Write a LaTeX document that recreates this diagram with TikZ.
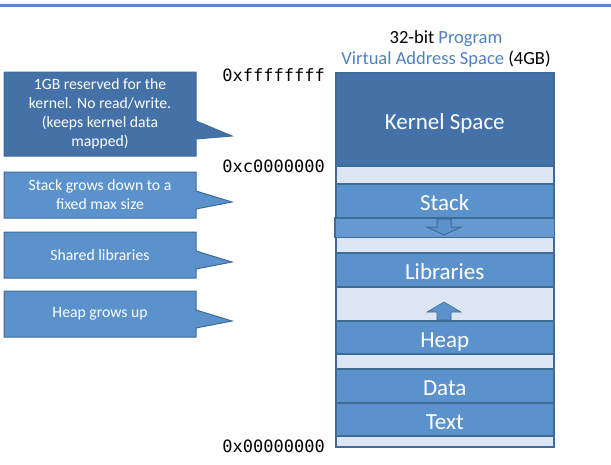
\documentclass[tikz,border=0pt]{standalone}
\usepackage{fontspec}
\setmainfont{Carlito}
\setmonofont{DejaVu Sans Mono}
\usepackage{tikz}
\usetikzlibrary{shapes.callouts, positioning, calc}

\definecolor{kerncol}{RGB}{68,114,168}
\definecolor{segcol}{RGB}{92,146,204}
\definecolor{lightcol}{RGB}{220,230,242}
\definecolor{bordcol}{RGB}{62,108,152}
\definecolor{titleblue}{RGB}{79,129,189}
\definecolor{topline}{RGB}{88,140,200}

\begin{document}
\begin{tikzpicture}[x=1pt, y=-1pt,
	seg/.style={draw=bordcol, line width=1.5pt, fill=segcol, text=white, minimum width=218pt, inner sep=0pt, text height=20pt, text depth=0pt, anchor=north west, font=\fontsize{23}{26}\selectfont},
	gap/.style={draw=bordcol, line width=1.5pt, fill=lightcol, minimum width=218pt, inner sep=0pt, anchor=north west},
	note/.style={rectangle callout, draw=bordcol, line width=1pt, fill=segcol, text=white, minimum width=192pt, align=center, font=\fontsize{15.7}{19}\selectfont, callout pointer width=18pt},
	addr/.style={anchor=east, inner sep=0pt, font=\ttfamily\fontsize{17}{18}\selectfont}]
	
	\useasboundingbox (0,0) rectangle (611,464);
	
	%//slide edge
	\draw[line width=3pt, topline] (0,5) -- (611,5);
	
	%//title
	\node[align=center, font=\fontsize{18.5}{20.5}\selectfont] (title) at (446,49)
	{32-bit {\color{titleblue}Program}\\{\color{titleblue}Virtual Address Space} (4GB)};
	
	%//address space column
	\node[seg, fill=kerncol, minimum height=93pt] (kernel) at (335,72) {Kernel Space};
	
	\foreach \name/\top/\h in {gapa/165/18, gapb/236/16, gapc/286/34, gapd/353/15, gape/435/11}
	\node[gap, minimum height=\h pt] (\name) at (335,\top) {};
	
	%//stack growth
	\node[gap, draw=none, fill=segcol!92!lightcol, minimum height=19pt] (grow) at (335,217) {};
	\draw[bordcol, line width=1.5pt] (grow.north west) -- (grow.south west);
	\draw[bordcol, line width=1.5pt] (grow.north east) -- (grow.south east);
	\draw[bordcol, line width=1pt, dashed] (grow.south west) -- (grow.south east);
	
	\foreach \name/\top/\h/\txt in {stack/183/34/Stack, libs/252/34/Libraries, heap/320/33/Heap, data/368/34/Data, text/402/33/Text}
	\node[seg, minimum height=\h pt] (\name) at (335,\top) {\txt};
	
	\def\ax{444}
	\draw[bordcol, line width=1pt, fill=segcol] (\ax-7,219) -- (\ax+7,219) -- (\ax+7,227) -- (\ax+17,227)
	-- (\ax,235) -- (\ax-17,227) -- (\ax-7,227) -- cycle;
	
	\draw[bordcol, line width=0.6pt, fill=segcol] (\ax-7,320) -- (\ax+7,320) -- (\ax+7,312) -- (\ax+17,312)
	-- (\ax,302) -- (\ax-17,312) -- (\ax-7,312) -- cycle;
	
	%//addresses
	\node[addr] (aff) at (325,75) {0xffffffff};
	\node[addr] (ac0) at (325,166) {0xc0000000};
	\node[addr] (a00) at (325,446) {0x00000000};
	
	%//callouts
	\coordinate (tipk) at (232,136);
	\coordinate (tips) at (232,202);
	\coordinate (tipl) at (232,262);
	\coordinate (tiph) at (232,321);
	
	\node[note, fill=kerncol, minimum height=84pt, callout absolute pointer=(tipk)] (nkern) at (100,114)
	{1GB reserved for the\\kernel. No read/write.\\(keeps kernel data\\mapped)};
	\node[note, minimum height=46pt, callout absolute pointer=(tips)] (nstack) at (100,195)
	{Stack grows down to a\\fixed max size};
	\node[note, minimum height=46pt, callout absolute pointer=(tipl)] (nlibs) at (100,255)
	{Shared libraries};
	\node[note, minimum height=46pt, callout absolute pointer=(tiph)] (nheap) at (100,314)
	{Heap grows up};
	
\end{tikzpicture}
\end{document}
